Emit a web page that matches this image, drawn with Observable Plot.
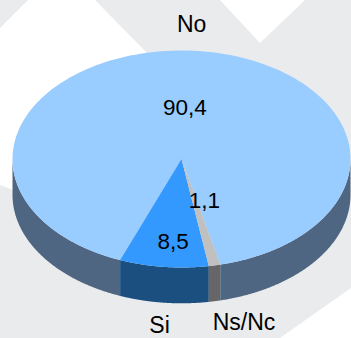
<!DOCTYPE html>
<html><head><meta charset="utf-8">
<script src="https://cdn.jsdelivr.net/npm/d3@7"></script>
<script src="https://cdn.jsdelivr.net/npm/@observablehq/plot@0.6"></script>
<style>
html,body{margin:0;padding:0;width:351px;height:338px;overflow:hidden;background:#EAEBED}
#bg{position:absolute;left:0;top:0;width:351px;height:338px}
#bg div{position:absolute;inset:0;background:#fff}
#a{clip-path:polygon(0 28px,28px 0,95px 0,146px 52px,146px 240px,0 185px)}
#b{clip-path:polygon(220px 0,305px 0,260px 43px)}
#c{clip-path:polygon(351px 288px,351px 338px,280px 338px)}
#chart{position:absolute;left:0;top:0}
svg{background:transparent!important;font-family:"Liberation Sans",Arial,sans-serif}
</style></head><body>
<div id="bg"><div id="a"></div><div id="b"></div><div id="c"></div></div>
<div id="chart"></div>
<script>
const categories = ["Si", "Ns/Nc", "No"];
const shares = [8.5, 1.1, 90.4];
const topColors = ["#3399FF", "#C0C0C0", "#99CCFF"];
const sideColors = ["#1A4F80", "#666666", "#4F6682"];
const valueLabels = ["8,5", "1,1", "90,4"];
const startFromBottom = -21.3; // degrees from the front of the pie
const wallDepth = 0.33;
const valueSpots = [[-0.05, 0.76], [0.135, 0.385], [0.02, -0.47]];
const nameSpots = [[-0.13, 1.54], [0.37, 1.51], [0.06, -1.24]];

const total = d3.sum(shares);
let a = startFromBottom;
const slices = shares.map((v, i) => {
  const from = a; a += v / total * 360;
  return {i, from, to: a};
});
const px = d => Math.sin(d * Math.PI / 180), py = d => Math.cos(d * Math.PI / 180);
const arcAngles = (from, to) => d3.range(0, 181).map(k => from + (to - from) * k / 180);

const tops = slices.flatMap(s => [{x: 0, y: 0, i: s.i},
  ...arcAngles(s.from, s.to).map(d => ({x: px(d), y: py(d), i: s.i}))]);

// only the front half of the rim is visible; a slice may show two separate pieces
const walls = slices.flatMap(s => {
  const out = [];
  [[-90, 90], [270, 450]].forEach(([vl, vh], n) => {
    const l = Math.max(s.from, vl), h = Math.min(s.to, vh);
    if (h <= l) return;
    const arc = arcAngles(l, h), key = s.i + "-" + n;
    out.push(...arc.map(d => ({x: px(d), y: py(d), i: s.i, key})));
    out.push(...arc.slice().reverse().map(d => ({x: px(d), y: py(d) + wallDepth, i: s.i, key})));
  });
  return out;
});

const chart = Plot.plot({
  width: 351, height: 338, margin: 0,
  x: {domain: [-1, 1], range: [12, 350], axis: null},
  y: {domain: [-1, 1], range: [50, 267], axis: null},
  style: {background: "transparent"},
  marks: [
    Plot.line(walls, {x: "x", y: "y", z: "key", fill: d => sideColors[d.i], stroke: "none", curve: "linear"}),
    Plot.line(tops.filter(d => d.i === 2), {x: "x", y: "y", z: "i", fill: topColors[2], stroke: "none", curve: "linear"}),
    Plot.line(tops.filter(d => d.i !== 2), {x: "x", y: "y", z: "i", fill: d => topColors[d.i], stroke: "none", curve: "linear"}),
    Plot.text(valueLabels, {x: (d, i) => valueSpots[i][0], y: (d, i) => valueSpots[i][1], text: d => d, fontSize: 22.5, fill: "#000", fontFamily: "Liberation Sans"}),
    Plot.text(categories, {x: (d, i) => nameSpots[i][0], y: (d, i) => nameSpots[i][1], text: d => d, fontSize: 23, fill: "#000", fontFamily: "Liberation Sans"})
  ]
});
document.getElementById("chart").append(chart);
</script>
</body></html>
